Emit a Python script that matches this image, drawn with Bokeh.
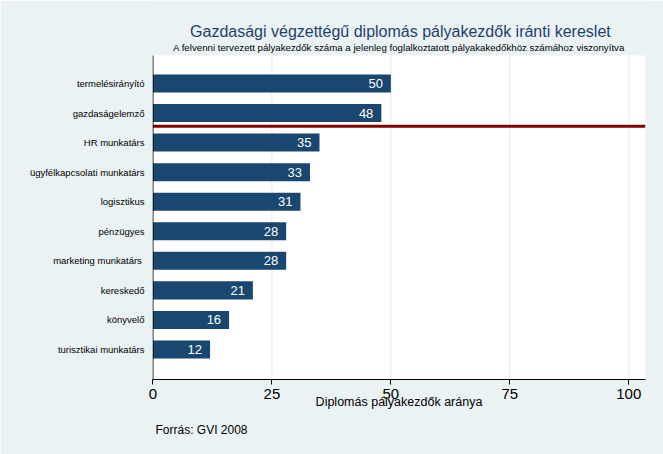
from bokeh.plotting import figure
from bokeh.models import Range1d, FixedTicker, Title, ColumnDataSource
from bokeh.core.properties import value
from bokeh.embed import file_html
from bokeh.resources import INLINE

# ---- data ----
categories = ["termelésirányító", "gazdaságelemző", "HR munkatárs",
              "ügyfélkapcsolati munkatárs", "logisztikus", "pénzügyes",
              "marketing  munkatárs", "kereskedő", "könyvelő",
              "turisztikai munkatárs"]
values = [50, 48, 35, 33, 31, 28, 28, 21, 16, 12]
x_ticks = [0, 25, 50, 75, 100]
grid_ticks = [25, 50, 75, 100]
reference_line = 8.55  # between 2nd and 3rd category (position scale)

title = "Gazdasági végzettégű diplomás pályakezdők iránti kereslet"
subtitle = "A felvenni tervezett pályakezdők száma a jelenleg foglalkoztatott pályakakedőkhöz számához viszonyítva"
x_label = "Diplomás pályakezdők aránya"
source_note = "Forrás: GVI 2008"

n = len(categories)
ypos = [n - i for i in range(n)]

BG = "#EAF2F3"
NAVY = "#1a476f"
FONT = "Liberation Sans"

x_lo, x_hi = -0.1, 103.52
y_lo, y_hi = -0.015, 12.808
area_bottom, area_top = -0.015, 10.947

p = figure(width=663, height=454, output_backend="svg", toolbar_location=None,
           x_range=Range1d(x_lo, x_hi), y_range=Range1d(y_lo, y_hi),
           min_border_left=152, min_border_right=18, min_border_top=0,
           min_border_bottom=75)
p.background_fill_color = BG
p.border_fill_color = BG
p.outline_line_color = None
p.xgrid.visible = False
p.ygrid.visible = False

# white plot region
p.quad(left=[0], right=[x_hi], bottom=[area_bottom], top=[area_top],
       fill_color="white", line_color=None)
# grid lines
p.segment(x0=grid_ticks, x1=grid_ticks, y0=[area_bottom] * len(grid_ticks),
          y1=[area_top] * len(grid_ticks), line_color="#e3ecee", line_width=1)

src = ColumnDataSource(dict(y=ypos, v=values, lab=[str(v) for v in values]))
p.hbar(y="y", right="v", left=0, height=0.61, source=src,
       fill_color=NAVY, line_color=None)
p.text(x="v", y="y", text="lab", source=src, x_offset=-8,
       text_align="right", text_baseline="middle", text_color="white",
       text_font=value(FONT), text_font_size="13px")

# reference line
p.segment(x0=[0], x1=[x_hi], y0=[reference_line], y1=[reference_line],
          line_color="#800000", line_width=3)

# y axis line
p.segment(x0=[0], x1=[0], y0=[area_bottom], y1=[area_top],
          line_color="black", line_width=1)

# titles
p.text(x=[52.0], y=[11.76], text=[title], text_align="center",
       text_baseline="alphabetic", text_color="#1f3f6e",
       text_font=value(FONT), text_font_size="16px")
p.text(x=[51.7], y=[11.21], text=[subtitle], text_align="center",
       text_baseline="alphabetic", text_color="black",
       text_font=value(FONT), text_font_size="9.7px")

# axes
xa = p.xaxis[0]
xa.ticker = FixedTicker(ticks=x_ticks)
xa.axis_line_color = "black"
xa.major_tick_out = 5
xa.major_tick_in = 0
xa.minor_tick_line_color = None
xa.major_tick_line_color = "black"
xa.major_label_text_font = FONT
xa.major_label_text_font_size = "15px"
xa.major_label_text_color = "black"
xa.major_label_standoff = 4
xa.axis_label = x_label
xa.axis_label_text_font = FONT
xa.axis_label_text_font_size = "12.5px"
xa.axis_label_text_font_style = "normal"
xa.axis_label_text_color = "black"
xa.axis_label_standoff = -7

ya = p.yaxis[0]
ya.ticker = FixedTicker(ticks=ypos)
ya.major_label_overrides = {y: c for y, c in zip(ypos, categories)}
ya.axis_line_color = None
ya.major_tick_line_color = None
ya.minor_tick_line_color = None
ya.major_tick_out = 0
ya.major_tick_in = 0
ya.major_label_standoff = 8
ya.major_label_text_font = FONT
ya.major_label_text_font_size = "9.5px"
ya.major_label_text_color = "black"

src_title = Title(text=source_note, align="left", offset=3,
                  vertical_align="bottom", standoff=18,
                  text_font=FONT, text_font_size="12px",
                  text_font_style="normal", text_color="black")
p.add_layout(src_title, "below")

open("out.html", "w").write(file_html(p, INLINE))
